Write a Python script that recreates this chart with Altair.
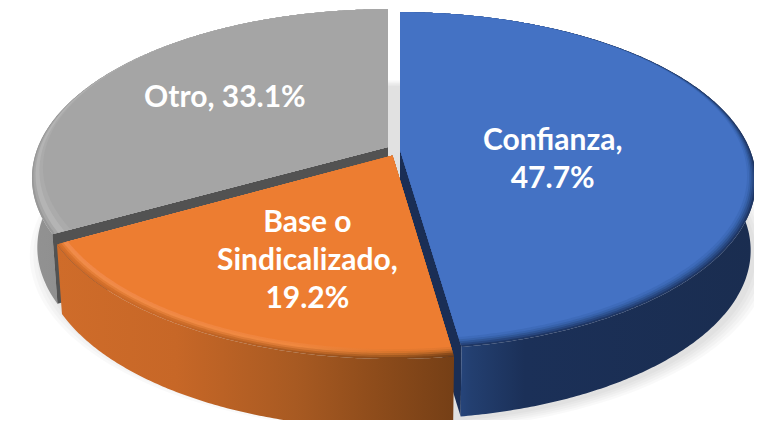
import numpy as np
import altair as alt

# ---- data
categories = ["Confianza", "Base o Sindicalizado", "Otro"]
shares = [47.7, 19.2, 33.1]
label_texts = ["Confianza,\n47.7%", "Base o\nSindicalizado,\n19.2%", "Otro, 33.1%"]

# ---- 3-D pie geometry (perspective projection of a disc)
B, A, K = 350.0, 163.0, 0.183
DEPTH = 69.5
BOTTOM_X = 0.985
MARGIN = 8.0
APEX = {"Confianza": (400.0, 150.0), "Base o Sindicalizado": (392.5, 155.5), "Otro": (388.0, 147.0)}
Y_SCALE = {"Confianza": 1.0, "Base o Sindicalizado": 1.02, "Otro": 1.0}
# first text line of every label, in polar position on the slice's disc
LABEL_POLAR = {"Confianza": (82.9, 0.444), "Base o Sindicalizado": (210.8, 0.442), "Otro": (302.6, 0.585)}

edges = np.concatenate([[0.0], np.cumsum(shares)]) * 3.6
SPAN = {c: (edges[i], edges[i + 1]) for i, c in enumerate(categories)}


def proj(cat, theta, r=1.0, bottom=False):
    t = np.radians(theta)
    X, Y = r * np.sin(t), r * np.cos(t)
    w = 1 + K * Y
    cx, cy = APEX[cat]
    dx, dy = B * X / w, -A * Y_SCALE[cat] * Y / w
    if bottom:
        return [cx + BOTTOM_X * dx - MARGIN, cy + dy + DEPTH - MARGIN]
    return [cx + dx - MARGIN, cy + dy - MARGIN]


def apex(cat, bottom=False):
    cx, cy = APEX[cat]
    return [cx - MARGIN, cy - MARGIN + (DEPTH if bottom else 0)]


def thetas(cat):
    a, b = SPAN[cat]
    return np.linspace(a, b, int(b - a) * 2 + 2)


def feature(ring):
    ring = [list(map(float, p)) for p in ring]
    ring.append(ring[0])
    return {"type": "Feature", "properties": {}, "geometry": {"type": "Polygon", "coordinates": [ring]}}


def top_shape(cat, t=0.0, power=1.0):
    pts = [apex(cat)]
    for th in thetas(cat):
        Y = np.cos(np.radians(th))
        pts.append(proj(cat, th, 1 - t * ((1 - Y) / 2) ** power))
    return feature(pts)


def side_shape(cat):
    ths = thetas(cat)
    return feature([proj(cat, th) for th in ths] + [proj(cat, th, bottom=True) for th in ths[::-1]])


def wall_shape(cat, th):
    return feature([apex(cat), proj(cat, th), proj(cat, th, bottom=True), apex(cat, True)])


def grad(stops):
    return alt.Gradient(
        gradient="linear", x1=0, x2=1, y1=0, y2=0,
        stops=[alt.GradientStop(offset=o, color=c) for o, c in stops],
    )


def shape(f, fill, opacity=1.0):
    return alt.Chart(alt.Data(values=[f])).mark_geoshape(
        fill=fill, strokeWidth=0, filled=True, opacity=opacity
    )


layers = []

# soft ground shadow
for s in [1.04, 1.03, 1.02, 1.01, 1.0]:
    pts = []
    for th in np.arange(0, 360, 2.0):
        t = np.radians(th)
        X, Y = s * np.sin(t), s * np.cos(t)
        w = 1 + K * np.cos(t)
        pts.append([400 + B * X / w - MARGIN, 154 - A * Y / w + DEPTH - MARGIN])
    layers.append(shape(feature(pts), "#000000", 0.022))

# Otro
g = "Otro"
layers.append(shape(side_shape(g), grad([(0, "#929292"), (0.2, "#8c8c8c"), (1, "#7a7a7a")])))
layers.append(shape(wall_shape(g, SPAN[g][0]), "#525252"))
for t, c in [(0.0, "#989898"), (0.012, "#a6a6a6"), (0.028, "#b4b4b4"), (0.06, "#ababab"), (0.09, "#a5a5a5")]:
    layers.append(shape(top_shape(g, t, 2.0), c))

# Confianza: side and inner wall
b = "Confianza"
blue_side = grad([(0, "#27467d"), (0.16, "#27467d"), (0.2, "#233f70"), (0.35, "#1b3058"), (1, "#1a2d50")])
layers.append(shape(wall_shape(b, SPAN[b][1]), "#1a2e55"))
layers.append(shape(side_shape(b), blue_side))

# Base o Sindicalizado
o = "Base o Sindicalizado"
orange_side_stops = [(0, "#cf6c2a"), (0.3, "#c76727"), (0.6, "#a85a22"), (0.8, "#8e4c1b"), (1, "#753f16")]
layers.append(shape(side_shape(o), grad(orange_side_stops)))
orange_rims = [
    (0.0, orange_side_stops),
    (0.008, [(0, "#d8722c"), (0.6, "#c56a28"), (0.85, "#a35a20"), (1, "#8a4a1a")]),
    (0.016, [(0, "#e67f38"), (0.6, "#dc7a35"), (0.85, "#bf6a28"), (1, "#b06024")]),
    (0.024, [(0, "#f08c4a"), (0.6, "#f0883f"), (0.85, "#d8752c"), (1, "#cf702a")]),
    (0.032, [(0, "#f1894a"), (0.6, "#ef843c"), (0.85, "#e67a2f"), (1, "#e27830")]),
    (0.040, [(0, "#ed7d31"), (1, "#ed7d31")]),
]
for t, stops in orange_rims:
    layers.append(shape(top_shape(o, t), grad(stops)))

# Confianza: top face with a dark rounded rim
for t, c in [(0.0, "#1f3765"), (0.008, "#27467f"), (0.016, "#2f5595"), (0.024, "#3762ab"), (0.032, "#3e6bba"), (0.042, "#4472c4")]:
    layers.append(shape(top_shape(b, t), c))

# labels
rows = []
for c, txt in zip(categories, label_texts):
    th, r = LABEL_POLAR[c]
    lon, lat = proj(c, th, r)
    rows.append({"lon": float(lon), "lat": float(lat), "txt": txt})
labels = alt.Chart(alt.Data(values=rows)).mark_text(
    font="Lato", fontSize=30, fontWeight="bold", color="#ffffff",
    lineBreak="\n", lineHeight=38, align="center", baseline="middle",
).encode(longitude="lon:Q", latitude="lat:Q", text="txt:N")
layers.append(labels)

chart = (
    alt.layer(*layers)
    .properties(
        width=746, height=412, padding=0,
        autosize=alt.AutoSizeParams(type="none"),
        projection=alt.Projection(type="identity", scale=1, translate=[0, 0]),
    )
    .configure_view(stroke=None)
)
chart.save("out.html", embed_options={"renderer": "svg", "actions": False})
